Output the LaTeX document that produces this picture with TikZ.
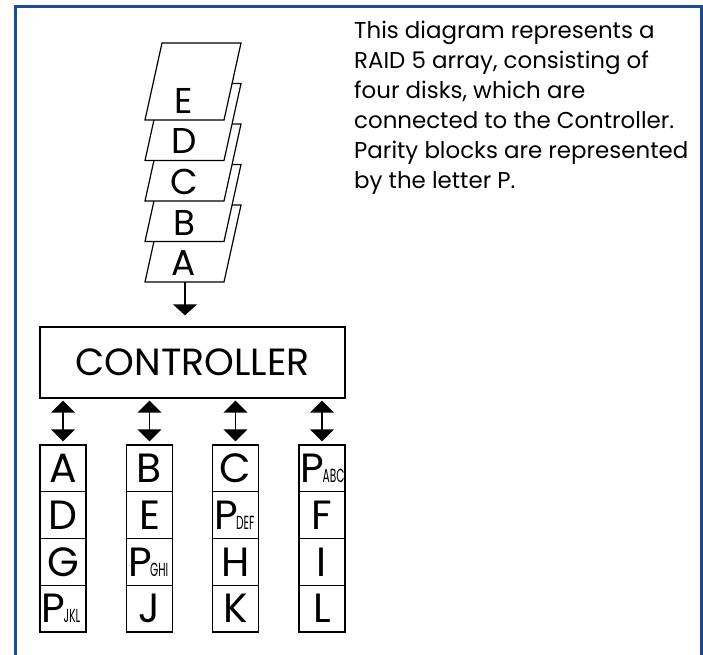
\documentclass[tikz,border=0pt]{standalone}
\usepackage{fontspec}
\setmainfont{Poppins}
\usepackage{graphicx}
\usetikzlibrary{arrows.meta}
\definecolor{framebl}{RGB}{28,74,150}
% parity block label: big P with a condensed, small subscript run
\newcommand\paritylbl[1]{\makebox[43bp][l]{P\kern-1.5bp\scalebox{0.56}[1]{\fontsize{19}{19}\selectfont #1}}}

\begin{document}
\begin{tikzpicture}[x=1bp,y=-1bp,
  plate/.style={draw=black, fill=white, line width=1.2bp, line join=miter},
  platelbl/.style={inner sep=0, font=\fontsize{36}{36}\selectfont},
  ctrlbox/.style={draw=black, line width=1.4bp, minimum width=305bp, minimum height=71bp,
                  inner sep=0, font=\fontsize{38}{38}\selectfont},
  cell/.style={draw=black, line width=1.4bp, minimum width=46bp, minimum height=46.75bp,
               inner sep=0, font=\fontsize{41}{41}\selectfont},
  feed/.style={line width=1.6bp, -{Triangle[width=24bp,length=11bp]}},
  duplex/.style={line width=1.6bp,
                 {Triangle[width=24bp,length=12bp]}-{Triangle[width=24bp,length=12bp]}},
  note/.style={anchor=north west, align=left, inner sep=0, font=\fontsize{23}{30}\selectfont}
]
\useasboundingbox (0,0) rectangle (703,655);

% outer frame, open at the bottom
\draw[framebl, line width=3bp] (15,656) -- (15,7) -- (701.5,7) -- (701.5,656);

% stack of incoming data blocks, A at the bottom, E on top
\foreach \t/\l/\n in {205/A/pa, 164.5/B/pb, 124/C/pc, 83.5/D/pd, 43/E/pe} {
  \draw[plate] (162,\t) -- (241,\t) -- (224,\t+77) -- (145,\t+77) -- cycle;
  \node[platelbl] (\n) at (184,\t+58) {\l};
}
\coordinate (stackfoot) at (185,282);

% controller
\node[ctrlbox] (ctrl) at (192.5,362.5) {CONTROLLER};
\draw[feed, shorten >=11bp] (stackfoot) -- (stackfoot |- ctrl.north);

% the four disks, striped blocks with rotating parity
\foreach \c/\x/\la/\lb/\lc/\ld in {
    1/63/A/D/G/\paritylbl{JKL},
    2/149.5/B/E/\paritylbl{GHI}/J,
    3/235.5/C/\paritylbl{DEF}/H/K,
    4/322/\paritylbl{ABC}/F/I/L} {
  \node[cell] (d\c a) at (\x,468.4) {\la};
  \node[cell] (d\c b) at (\x,515.1) {\lb};
  \node[cell] (d\c c) at (\x,561.9) {\lc};
  \node[cell] (d\c d) at (\x,608.6) {\ld};
  \draw[duplex, shorten <=2bp, shorten >=3bp] (ctrl.south -| d\c a.north) -- (d\c a.north);
}

% explanatory note
\node[note] (txt) at (354,21) {This diagram represents a\\
RAID 5 array, consisting of\\
four disks, which are\\
connected to the Controller.\\
Parity blocks are represented\\
by the letter P.};
\end{tikzpicture}
\end{document}
